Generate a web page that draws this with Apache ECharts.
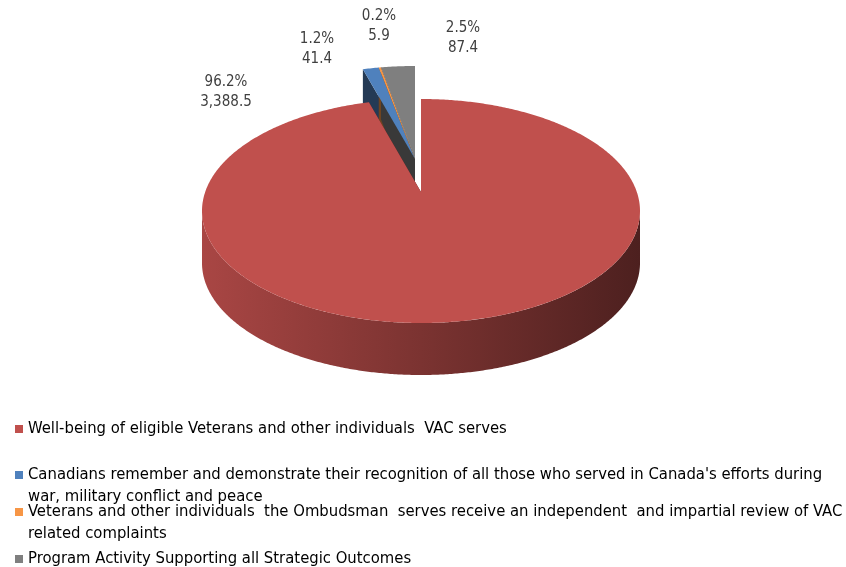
<!DOCTYPE html>
<html>
<head>
<meta charset="utf-8">
<script src="https://cdn.jsdelivr.net/npm/echarts@6/dist/echarts.min.js"></script>
<style>
    html, body { margin: 0; background: #fff; }
    #chart { width: 846px; height: 567px; }
</style>
</head>
<body>
<div id="chart"></div>
<script>
// data
const categories = [
    'Well-being of eligible Veterans and other individuals  VAC serves',
    "Canadians remember and demonstrate their recognition of all those who served in Canada's efforts during war, military conflict and peace",
    'Veterans and other individuals  the Ombudsman  serves receive an independent  and impartial review of VAC related complaints',
    'Program Activity Supporting all Strategic Outcomes',
]
const values = [3388.5, 41.4, 5.9, 87.4]
const colors = ['#C0504D', '#4F81BD', '#F79646', '#7F7F7F']
const exploded = [false, true, true, true]

const FONT = "'Liberation Sans Narrow', 'DejaVu Sans Condensed', sans-serif"

// pie geometry (3d look, top ellipse + depth)
const PIE = { cx: 421, cy: 211, rx: 219, ry: 112, depth: 52, apexDy: -19 }
const explodeShift = [-6, -33]
// label anchor, offset from pie centre
const labelOffsets = [[-195, -119], [-104, -162], [-42, -185], [42, -173]]

const total = values.reduce((s, v) => s + v, 0)
const before = values.map((v, i) => values.slice(0, i).reduce((s, x) => s + x, 0))

function shade(hex, k) {
    const n = parseInt(hex.slice(1), 16)
    const r = Math.round(((n >> 16) & 255) * k)
    const g = Math.round(((n >> 8) & 255) * k)
    const b = Math.round((n & 255) * k)
    return 'rgb(' + r + ',' + g + ',' + b + ')'
}

function renderSlice(params, api) {
    const i = params.seriesIndex
    const v = api.value(0)
    const color = api.visual('color')
    const a0 = (before[i] / total) * Math.PI * 2
    const a1 = a0 + (v / total) * Math.PI * 2
    const off = exploded[i] ? explodeShift : [0, 0]
    const cx = PIE.cx + off[0]
    const cy = PIE.cy + off[1]
    const D = PIE.depth

    const pt = (a, dy) => [cx + PIE.rx * Math.sin(a), cy - PIE.ry * Math.cos(a) + dy]
    const arc = (s, e, dy) => {
        const pts = []
        const n = Math.max(2, Math.ceil((e - s) / (Math.PI / 360)))
        for (let k = 0; k <= n; k++) pts.push(pt(s + ((e - s) * k) / n, dy))
        return pts
    }
    const apex = [cx, cy + PIE.apexDy]
    const children = []

    // cut faces of the slice
    ;[a0, a1].forEach(a => {
        const p = pt(a, 0)
        children.push({
            type: 'polygon',
            z2: 1,
            shape: { points: [apex, p, [p[0], p[1] + D], [apex[0], apex[1] + D]] },
            style: { fill: shade(colors[i], 0.45) },
        })
    })

    // outer wall, only the front half shows
    const s = Math.max(a0, Math.PI / 2)
    const e = Math.min(a1, Math.PI * 1.5)
    if (e > s) {
        children.push({
            type: 'polygon',
            z2: 2,
            shape: { points: arc(s, e, 0).concat(arc(s, e, D).reverse()) },
            style: {
                fill: {
                    type: 'linear',
                    global: true,
                    x: PIE.cx - PIE.rx, y: 0, x2: PIE.cx + PIE.rx, y2: 0,
                    colorStops: [
                        { offset: 0, color: shade(colors[i], 0.88) },
                        { offset: 0.5, color: shade(colors[i], 0.64) },
                        { offset: 1, color: shade(colors[i], 0.4) },
                    ],
                },
            },
        })
    }

    // top face
    children.push({
        type: 'polygon',
        z2: 3,
        shape: { points: [apex].concat(arc(a0, a1, 0)) },
        style: { fill: color },
    })

    // label: percent + value
    const pct = ((v / total) * 100).toFixed(1) + '%'
    const val = v.toLocaleString('en-US', { minimumFractionDigits: 1, maximumFractionDigits: 1 })
    children.push({
        type: 'text',
        z2: 4,
        x: PIE.cx + labelOffsets[i][0],
        y: PIE.cy + labelOffsets[i][1],
        style: {
            text: pct + '\n' + val,
            align: 'center',
            verticalAlign: 'middle',
            fontFamily: FONT,
            fontSize: 15,
            lineHeight: 20,
            fill: '#404040',
        },
    })

    return { type: 'group', children }
}

// one legend per item, Excel spacing is uneven
// wrapped items get an empty first line so the icon sits on line one
const legendTops = [418, 442, 479, 548]

const option = {
    animation: false,
    legend: categories.map((name, i) => ({
        data: [name],
        left: 15,
        top: legendTops[i],
        padding: 0,
        icon: 'rect',
        itemWidth: 8,
        itemHeight: 8,
        selectedMode: false,
        formatter: n => {
            const t = n.replace(' war,', '\nwar,').replace(' related', '\nrelated')
            return t.indexOf('\n') > -1 ? '\n' + t : t
        },
        textStyle: {
            fontFamily: FONT,
            fontSize: 16.5,
            lineHeight: 22,
            color: '#000',
        },
    })),
    series: categories.map((name, i) => ({
        type: 'custom',
        name: name,
        coordinateSystem: 'none',
        z: exploded[i] ? 2 : 3,
        itemStyle: { color: colors[i] },
        renderItem: renderSlice,
        data: [values[i]],
    })),
}

const mychart = echarts.init(document.getElementById('chart'))
mychart.setOption(option)
</script>
</body>
</html>
